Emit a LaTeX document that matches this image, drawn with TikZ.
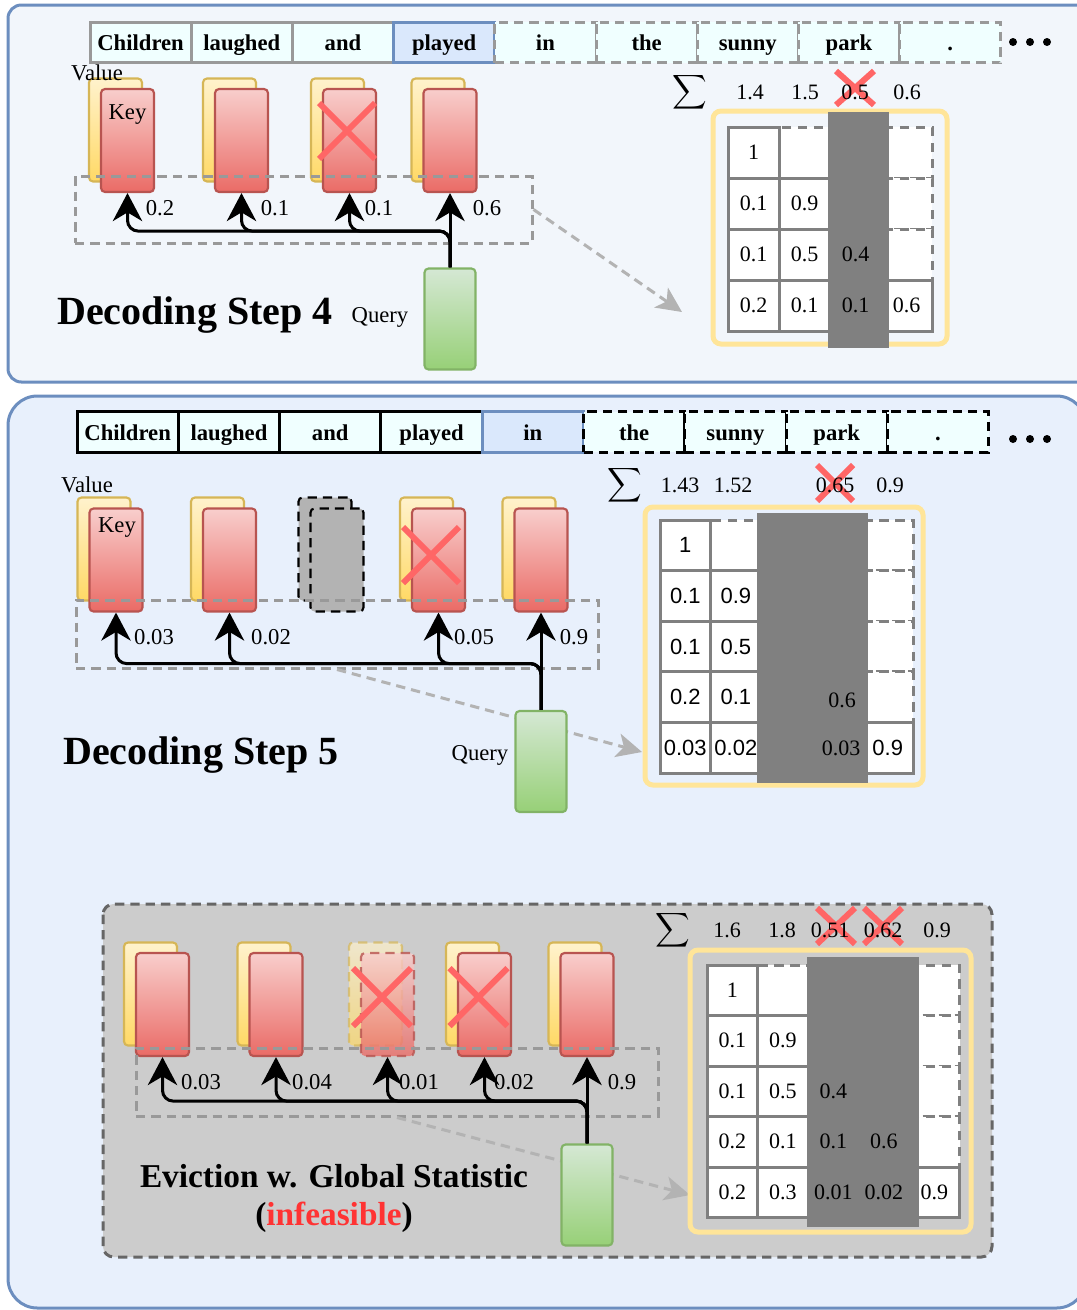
\documentclass[tikz,border=0pt]{standalone}
\usepackage{fontspec}
\setmainfont{Liberation Serif}
\newfontfamily\numsans{Liberation Sans}
\usepackage{graphicx}
\usepackage{tikz}
\usetikzlibrary{calc,arrows.meta}

\definecolor{panelA}{HTML}{F2F6FB}
\definecolor{panelB}{HTML}{E8F0FC}
\definecolor{panelline}{HTML}{6C8EBF}
\definecolor{tokfill}{HTML}{F0FFFF}
\definecolor{tokline}{HTML}{999999}
\definecolor{curfill}{HTML}{DAE8FC}
\definecolor{keyline}{HTML}{B85450}
\definecolor{keytop}{HTML}{F8CECC}
\definecolor{keybot}{HTML}{EA6B66}
\definecolor{valline}{HTML}{D6B656}
\definecolor{valtop}{HTML}{FFF2CC}
\definecolor{valbot}{HTML}{FFD966}
\definecolor{qline}{HTML}{82B366}
\definecolor{qtop}{HTML}{D5E8D4}
\definecolor{qbot}{HTML}{97D077}
\definecolor{crossred}{HTML}{FF6666}
\definecolor{frameyel}{HTML}{FFE599}
\definecolor{gridgray}{HTML}{808080}
\definecolor{globalgray}{HTML}{CCCCCC}
\definecolor{globalline}{HTML}{666666}
\definecolor{zoomgray}{HTML}{B3B3B3}
\definecolor{infred}{HTML}{FF3333}

\tikzstyle{bigdash} = [dash pattern=on 7pt off 4.5pt]
\tikzstyle{card} = [rectangle, rounded corners=3pt, line width=1.6pt, inner sep=0pt, minimum width=39.75pt, minimum height=77.25pt]
\tikzstyle{keycard} = [card, draw=keyline, top color=keytop, bottom color=keybot]
\tikzstyle{valcard} = [card, draw=valline, top color=valtop, bottom color=valbot]
\tikzstyle{qcard} = [card, draw=qline, top color=qtop, bottom color=qbot, minimum width=38.25pt, minimum height=75.75pt]
\tikzstyle{gonecard} = [card, draw=black, fill=zoomgray, bigdash]
\tikzstyle{tok} = [rectangle, line width=2.25pt, inner sep=0pt, minimum width=75.9pt, minimum height=30.5pt, text height=14.5pt, text depth=2pt, fill=tokfill, font=\fontsize{17}{20}\selectfont\bfseries]
\tikzstyle{lab} = [inner sep=0pt, font=\fontsize{17}{20}\selectfont]
\tikzstyle{cellnum} = [inner sep=0pt, font=\fontsize{16.5}{18}\selectfont]
\tikzstyle{sansnum} = [cellnum, font=\fontsize{16.5}{18}\selectfont\numsans]
\tikzstyle{sumsym} = [inner sep=0pt]
\tikzstyle{steptitle} = [inner sep=0pt, font=\fontsize{30}{34}\selectfont\bfseries]
\tikzstyle{evtext} = [inner sep=0pt, font=\fontsize{25}{28}\selectfont\bfseries]
\tikzstyle{attbox} = [rectangle, draw=tokline, line width=2.25pt, bigdash, inner sep=0pt]
\tikzstyle{matframe} = [rectangle, draw=frameyel, line width=3.75pt, rounded corners=6pt, inner sep=0pt]
\tikzstyle{celllow} = [draw=gridgray, line width=2.25pt, fill=white]
\tikzstyle{cellup} = [celllow, dash pattern=on 7pt off 5pt]
\tikzstyle{flow} = [line width=2.25pt, rounded corners=8pt, -{Stealth[length=21pt,width=22pt,inset=6.5pt]}]
\tikzstyle{zoomflow} = [draw=zoomgray, line width=2.25pt, bigdash, -{Stealth[length=19pt,width=18pt,inset=5pt,fill=zoomgray]}]
\tikzstyle{crossline} = [draw=crossred, line width=4.5pt]
\tikzstyle{panelbox} = [draw=panelline, line width=2.25pt]

% big summation sign
\newcommand{\bigsum}{\scalebox{1.8}{$\displaystyle\sum$}}
% red cross: centre, half width, half height
\newcommand{\redcross}[3]{%
  \draw[crossline] ($(#1)+(-#2,-#3)$) -- ($(#1)+(#2,#3)$);
  \draw[crossline] ($(#1)+(-#2,#3)$) -- ($(#1)+(#2,-#3)$);}

\begin{document}
\begin{tikzpicture}[x=0.75pt,y=-0.75pt]
\useasboundingbox (0,0) rectangle (1076,1310);

% the two panels
\draw[panelbox, fill=panelA, rounded corners=10pt] (8,5) rectangle (1110,382);
\draw[panelbox, fill=panelB, rounded corners=22pt] (8,396) rectangle (1086,1308);

%%%%%%%%%%%%%%%% step 4
\foreach \w [count=\i] in {Children,laughed,and}
  \node[tok, draw=tokline] (t1-\i) at ({90+(\i-0.5)*101.2},42.5) {\w};
\node[tok, draw=panelline, fill=curfill] (t1-4) at ({90+3.5*101.2},42.5) {played};
\foreach \w [count=\i from 5] in {in,the,sunny,park,.}
  \node[tok, draw=tokline, bigdash] (t1-\i) at ({90+(\i-0.5)*101.2},42.5) {\w};
\foreach \x in {1013,1030,1047} \fill (\x,42) circle[radius=3pt];

\foreach \x [count=\i] in {127.5,241.5,349.5,450} {
  \node[valcard] (v1-\i) at (\x-12,130) {};
  \node[keycard] (k1-\i) at (\x,140.5) {};
}
\node[lab] (vallab1) at (97,73) {Value};
\node[lab] (keylab1) at (127.5,115) {Key};
\redcross{347,131}{28}{28}

\node[attbox, minimum width=342.75pt, minimum height=50.25pt] (att1) at (303.5,209.5) {};
\coordinate (z1) at (682,312);
\draw[zoomflow] (att1.east) -- (z1);

\node[qcard] (q1) at (450,319) {};
\node[lab] (qlab1) at (380,317) {Query};
\foreach \i in {1,2,3}
  \draw[flow] (q1.north) |- ($(k1-\i.south)+(0,38)$) -- (k1-\i.south);
\draw[flow] (q1.north) -- (k1-4.south);
\foreach \x/\val [count=\i] in {160/0.2,275/0.1,379/0.1,487/0.6}
  \node[lab] (w1-\i) at (\x,208) {\val};

\node[steptitle] (step4) at (195,315) {Decoding Step 4};

% attention matrix, step 4
\node[matframe, fill=panelA, minimum width=175.5pt, minimum height=174.75pt] (mat1) at (830,227.5) {};
\foreach \row in {1,...,4} \foreach \col in {\row,...,4}
  \draw[cellup] ({728+(\col-1)*51},{127+(\row-1)*51}) rectangle ++(51,51);
\foreach \row in {1,...,4} \foreach \col in {1,...,\row}
  \draw[celllow] ({728+(\col-1)*51},{127+(\row-1)*51}) rectangle ++(51,51);
\fill[gridgray] (828,112) rectangle (889,348);
\foreach \row/\col/\val in {1/1/1,2/1/0.1,2/2/0.9,3/1/0.1,3/2/0.5,3/3/0.4,4/1/0.2,4/2/0.1,4/3/0.1,4/4/0.6}
  \node[cellnum] (m1-\row-\col) at ({728+(\col-0.5)*51},{127+(\row-0.5)*51}) {\val};
\redcross{855,88}{19}{17}
\node[sumsym] (sig1) at (690,92) {\bigsum};
\foreach \x/\val [count=\i] in {750/1.4,805/1.5,855/0.5,907/0.6}
  \node[cellnum] (s1-\i) at (\x,92) {\val};

%%%%%%%%%%%%%%%% step 5
\foreach \w [count=\i] in {Children,laughed,and,played}
  \node[tok, draw=black] (t2-\i) at ({77+(\i-0.5)*101.3},432) {\w};
\node[tok, draw=panelline, fill=curfill] (t2-5) at ({77+4.5*101.3},432) {in};
\foreach \w [count=\i from 6] in {the,sunny,park,.}
  \node[tok, draw=black, bigdash] (t2-\i) at ({77+(\i-0.5)*101.3},432) {\w};
\foreach \x in {1013,1030,1047} \fill (\x,439) circle[radius=3pt];

\foreach \i/\x in {1/116,2/229.5,4/438.5,5/541} {
  \node[valcard] (v2-\i) at (\x-12,549) {};
  \node[keycard] (k2-\i) at (\x,560) {};
}
\node[gonecard] (v2-3) at (325,549) {};
\node[gonecard] (k2-3) at (337,560) {};
\node[lab] (vallab2) at (87,485) {Value};
\node[lab] (keylab2) at (117,528) {Key};
\redcross{431,555}{28}{28}

\node[attbox, minimum width=391.5pt, minimum height=51pt] (att2) at (337,634) {};
\coordinate (z2) at (642,752);
\draw[zoomflow] (att2.south) -- (z2);

\node[qcard] (q2) at (541,761.5) {};
\node[lab] (qlab2) at (480,755) {Query};
\foreach \i in {1,2,4}
  \draw[flow] (q2.north) |- ($(k2-\i.south)+(0,51)$) -- (k2-\i.south);
\draw[flow] (q2.north) -- (k2-5.south);
\foreach \x/\val [count=\i] in {154/0.03,271/0.02,474/0.05,574/0.9}
  \node[lab] (w2-\i) at (\x,637) {\val};

\node[steptitle] (step5) at (201,755) {Decoding Step 5};

% attention matrix, step 5
\node[matframe, fill=panelB, minimum width=208.5pt, minimum height=208.5pt] (mat2) at (784,646) {};
\foreach \row in {1,...,5} \foreach \col in {\row,...,5}
  \draw[cellup] ({660+(\col-1)*50.6},{520+(\row-1)*50.6}) rectangle ++(50.6,50.6);
\foreach \row in {1,...,5} \foreach \col in {1,...,\row}
  \draw[celllow] ({660+(\col-1)*50.6},{520+(\row-1)*50.6}) rectangle ++(50.6,50.6);
\fill[gridgray] (757,513) rectangle (868,783);
\foreach \row/\col/\val in {1/1/1,2/1/0.1,2/2/0.9,3/1/0.1,3/2/0.5,4/1/0.2,4/2/0.1,5/1/0.03,5/2/0.02,5/5/0.9}
  \node[sansnum] (m2-\row-\col) at ({660+(\col-0.5)*50.6},{520+(\row-0.5)*50.6}) {\val};
\node[cellnum] (m2-4-4) at (842,700) {0.6};
\node[cellnum] (m2-5-4) at (841,748) {0.03};
\redcross{835,483}{18}{18}
\node[sumsym] (sig2) at (625,485) {\bigsum};
\foreach \x/\val [count=\i] in {680/1.43,733/1.52,835/0.65,890/0.9}
  \node[cellnum] (s2-\i) at (\x,485) {\val};

%%%%%%%%%%%%%%%% global statistic
\draw[draw=globalline, fill=globalgray, line width=2.25pt, bigdash, rounded corners=8pt] (103,904) rectangle (992,1257);

\foreach \i/\x in {1/162.5,2/276,4/484.5,5/587} {
  \node[valcard] (v3-\i) at (\x-12,994) {};
  \node[keycard] (k3-\i) at (\x,1004.5) {};
}
\node[valcard, bigdash, opacity=0.7] (v3-3) at (375.5,994) {};
\node[keycard, bigdash, opacity=0.8] (k3-3) at (387.5,1004.5) {};
\redcross{382,997}{29}{29}
\redcross{478.5,997}{29}{29}

\node[attbox, minimum width=391.5pt, minimum height=51pt] (att3) at (397,1082) {};
\coordinate (z3) at (690,1195);
\draw[zoomflow] (att3.south) -- (z3);

\node[qcard] (q3) at (587,1195) {};
\foreach \i in {1,2,3,4}
  \draw[flow] (q3.north) |- ($(k3-\i.south)+(0,44)$) -- (k3-\i.south);
\draw[flow] (q3.north) -- (k3-5.south);
\foreach \x/\val [count=\i] in {201/0.03,312/0.04,419/0.01,514/0.02,622/0.9}
  \node[lab] (w3-\i) at (\x,1082) {\val};

\node[evtext] (evict1) at (334,1176) {Eviction w. Global Statistic};
\node[evtext] (evict2) at (334,1217) {(\textcolor{infred}{infeasible})};

% attention matrix, global
\node[matframe, fill=globalgray, minimum width=210.75pt, minimum height=211.5pt] (mat3) at (830.5,1091) {};
\foreach \row in {1,...,5} \foreach \col in {\row,...,5}
  \draw[cellup] ({707+(\col-1)*50.5},{965+(\row-1)*50.5}) rectangle ++(50.5,50.5);
\foreach \row in {1,...,5} \foreach \col in {1,...,\row}
  \draw[celllow] ({707+(\col-1)*50.5},{965+(\row-1)*50.5}) rectangle ++(50.5,50.5);
\fill[gridgray] (807,957) rectangle (919,1227);
\foreach \row/\col/\val in {1/1/1,2/1/0.1,2/2/0.9,3/1/0.1,3/2/0.5,3/3/0.4,4/1/0.2,4/2/0.1,4/3/0.1,4/4/0.6,5/1/0.2,5/2/0.3,5/3/0.01,5/4/0.02,5/5/0.9}
  \node[cellnum] (m3-\row-\col) at ({707+(\col-0.5)*50.5},{965+(\row-0.5)*50.5}) {\val};
\redcross{836,926}{19}{18}
\redcross{883,926}{19}{18}
\node[sumsym] (sig3) at (673,930) {\bigsum};
\foreach \x/\val [count=\i] in {727/1.6,782/1.8,830/0.51,883/0.62,937/0.9}
  \node[cellnum] (s3-\i) at (\x,930) {\val};

\end{tikzpicture}
\end{document}
